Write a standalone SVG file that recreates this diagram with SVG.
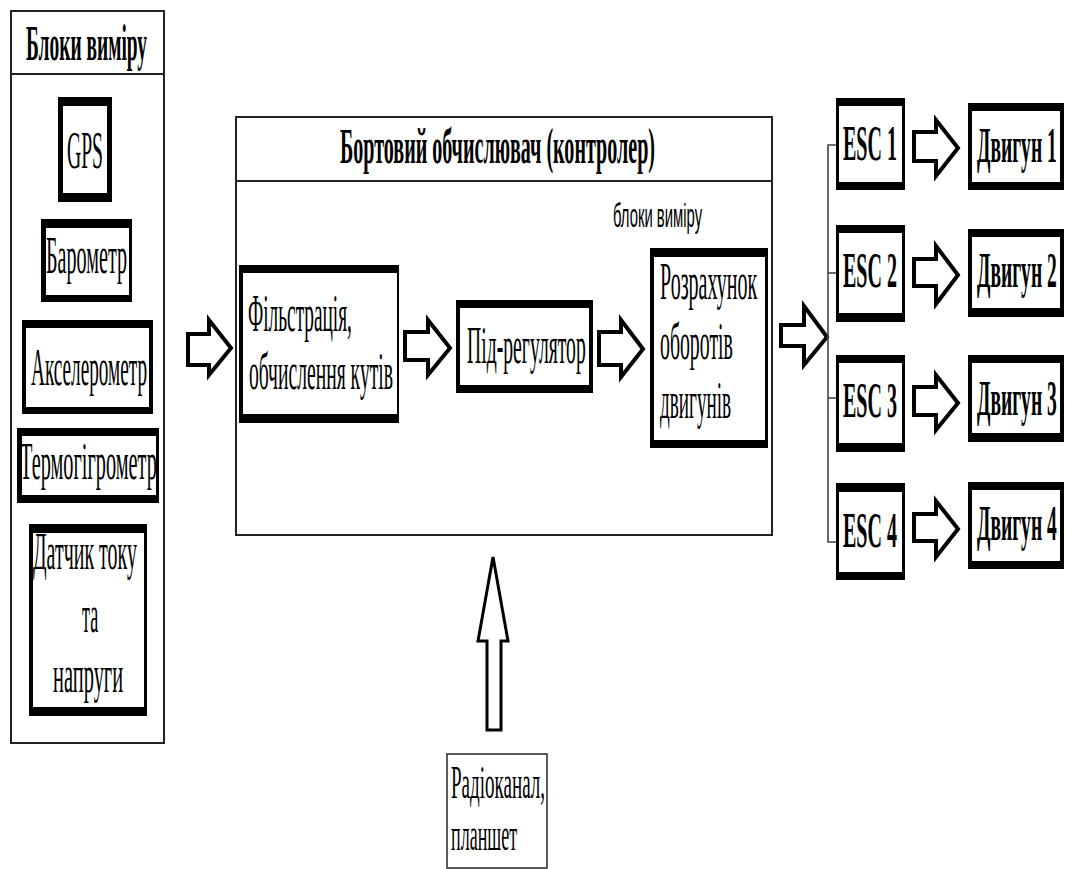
<svg xmlns="http://www.w3.org/2000/svg" width="1065" height="869" viewBox="0 0 1065 869">
<style>
.bg{fill:#fff}
.panel{fill:#fff;stroke:#222;stroke-width:2}
.sep{stroke:#222;stroke-width:2}
.ob{fill:#000}
.ib{fill:#fff}
.t{font-family:"Liberation Serif","Times New Roman",serif;font-size:52px;fill:#000}
.b{font-weight:bold;font-size:51px}
.r{font-size:46px}
.s{font-family:"Liberation Sans",Arial,sans-serif;font-size:34px;fill:#000}
.arr{fill:#fff;stroke:#000;stroke-width:4;stroke-linejoin:miter}
.bus{fill:none;stroke:#444;stroke-width:1.6}
.radio{fill:#fff;stroke:#333;stroke-width:1.6}
</style>
<rect class="bg" x="0" y="0" width="1065" height="869"/>

<g id="panel-sensors">
<rect class="panel" x="11" y="11" width="153" height="732"/>
<line class="sep" x1="11" y1="74" x2="164" y2="74"/>
<text class="t b" transform="translate(26,60) scale(0.45,1)" textLength="269" lengthAdjust="spacingAndGlyphs">Блоки виміру</text>
</g>

<g id="node-gps">
<rect class="ob" x="58" y="97" width="54" height="105"/>
<rect class="ib" x="63" y="106" width="44" height="87"/>
<text class="t" transform="translate(67,168) scale(0.45,1)" textLength="80" lengthAdjust="spacingAndGlyphs">GPS</text>
</g>
<g id="node-barometer">
<rect class="ob" x="41" y="219" width="91" height="83"/>
<rect class="ib" x="46" y="228" width="83" height="67"/>
<text class="t" transform="translate(46,273) scale(0.45,1)" textLength="180" lengthAdjust="spacingAndGlyphs">Барометр</text>
</g>
<g id="node-accel">
<rect class="ob" x="22" y="320" width="131" height="94"/>
<rect class="ib" x="26" y="328" width="123" height="79"/>
<text class="t" transform="translate(31,385) scale(0.45,1)" textLength="258" lengthAdjust="spacingAndGlyphs">Акселерометр</text>
</g>
<g id="node-thermo">
<rect class="ob" x="17" y="428" width="142" height="75"/>
<rect class="ib" x="22" y="436" width="134" height="59"/>
<text class="t" transform="translate(20,479) scale(0.45,1)" textLength="304" lengthAdjust="spacingAndGlyphs">Термогігрометр</text>
</g>
<g id="node-current">
<rect class="ob" x="29" y="524" width="118" height="192"/>
<rect class="ib" x="33" y="533" width="111" height="174"/>
<text class="t" transform="translate(33,569) scale(0.45,1)" textLength="231" lengthAdjust="spacingAndGlyphs">Датчик току</text>
<text class="t" transform="translate(82,632) scale(0.45,1)" textLength="36" lengthAdjust="spacingAndGlyphs">та</text>
<text class="t" transform="translate(53,692) scale(0.45,1)" textLength="156" lengthAdjust="spacingAndGlyphs">напруги</text>
</g>

<g id="panel-controller">
<rect class="panel" x="236" y="117" width="536" height="418"/>
<line class="sep" x1="236" y1="181" x2="772" y2="181"/>
<text class="t b" transform="translate(340,163) scale(0.45,1)" textLength="700" lengthAdjust="spacingAndGlyphs">Бортовий обчислювач (контролер)</text>
<text class="s" transform="translate(613,227) scale(0.45,1)" textLength="198" lengthAdjust="spacingAndGlyphs">блоки виміру</text>
</g>

<g id="node-filter">
<rect class="ob" x="239" y="265" width="160" height="158"/>
<rect class="ib" x="243" y="273" width="154" height="141"/>
<text class="t" transform="translate(248,331) scale(0.45,1)" textLength="231" lengthAdjust="spacingAndGlyphs">Фільстрація,</text>
<text class="t" transform="translate(249,389) scale(0.45,1)" textLength="320" lengthAdjust="spacingAndGlyphs">обчислення кутів</text>
</g>
<g id="node-pid">
<rect class="ob" x="456" y="300" width="137" height="93"/>
<rect class="ib" x="460" y="308" width="129" height="77"/>
<text class="t" transform="translate(467,363) scale(0.45,1)" textLength="264" lengthAdjust="spacingAndGlyphs">Під-регулятор</text>
</g>
<g id="node-calc">
<rect class="ob" x="650" y="248" width="118" height="200"/>
<rect class="ib" x="654" y="257" width="111" height="183"/>
<text class="t" transform="translate(660,299) scale(0.45,1)" textLength="216" lengthAdjust="spacingAndGlyphs">Розрахунок</text>
<text class="t" transform="translate(660,359) scale(0.45,1)" textLength="162" lengthAdjust="spacingAndGlyphs">оборотів</text>
<text class="t" transform="translate(660,418) scale(0.45,1)" textLength="158" lengthAdjust="spacingAndGlyphs">двигунів</text>
</g>

<g id="node-esc1">
<rect class="ob" x="836" y="98" width="69" height="92"/>
<rect class="ib" x="839" y="106" width="63" height="76"/>
<text class="t b" transform="translate(843,160) scale(0.45,1)" textLength="120" lengthAdjust="spacingAndGlyphs">ESC 1</text>
</g>
<g id="node-esc2">
<rect class="ob" x="836" y="225" width="69" height="97"/>
<rect class="ib" x="839" y="233" width="63" height="80"/>
<text class="t b" transform="translate(843,287) scale(0.45,1)" textLength="120" lengthAdjust="spacingAndGlyphs">ESC 2</text>
</g>
<g id="node-esc3">
<rect class="ob" x="836" y="355" width="69" height="97"/>
<rect class="ib" x="839" y="363" width="63" height="80"/>
<text class="t b" transform="translate(843,417) scale(0.45,1)" textLength="120" lengthAdjust="spacingAndGlyphs">ESC 3</text>
</g>
<g id="node-esc4">
<rect class="ob" x="836" y="483" width="69" height="97"/>
<rect class="ib" x="839" y="492" width="63" height="80"/>
<text class="t b" transform="translate(843,547) scale(0.45,1)" textLength="120" lengthAdjust="spacingAndGlyphs">ESC 4</text>
</g>

<g id="node-motor1">
<rect class="ob" x="968" y="103" width="96" height="87"/>
<rect class="ib" x="972" y="111" width="88" height="71"/>
<text class="t b" transform="translate(977,162) scale(0.38,1)" textLength="210" lengthAdjust="spacingAndGlyphs">Двигун 1</text>
</g>
<g id="node-motor2">
<rect class="ob" x="968" y="229" width="96" height="88"/>
<rect class="ib" x="972" y="237" width="88" height="71"/>
<text class="t b" transform="translate(977,287) scale(0.38,1)" textLength="210" lengthAdjust="spacingAndGlyphs">Двигун 2</text>
</g>
<g id="node-motor3">
<rect class="ob" x="968" y="355" width="96" height="87"/>
<rect class="ib" x="972" y="363" width="88" height="70"/>
<text class="t b" transform="translate(977,415) scale(0.38,1)" textLength="210" lengthAdjust="spacingAndGlyphs">Двигун 3</text>
</g>
<g id="node-motor4">
<rect class="ob" x="968" y="482" width="96" height="87"/>
<rect class="ib" x="972" y="490" width="88" height="71"/>
<text class="t b" transform="translate(977,540) scale(0.38,1)" textLength="210" lengthAdjust="spacingAndGlyphs">Двигун 4</text>
</g>

<g id="node-radio">
<rect class="radio" x="447" y="754" width="100" height="114"/>
<text class="t r" transform="translate(451,798) scale(0.45,1)" textLength="209" lengthAdjust="spacingAndGlyphs">Радіоканал,</text>
<text class="t r" transform="translate(451,850) scale(0.45,1)" textLength="147" lengthAdjust="spacingAndGlyphs">планшет</text>
</g>

<g id="connectors">
<polygon class="arr" points="188,334 209,334 209,320 231,348 209,375 209,365 188,365"/>
<polygon class="arr" points="405,332 428,332 428,320 450,348 428,375 428,360 405,360"/>
<polygon class="arr" points="599,332 621,332 621,320 643,349 621,377 621,365 599,365"/>
<polygon class="arr" points="781,325 804,325 804,306 827,337 804,365 804,346 781,346"/>
<polyline class="bus" points="836,145 828,145 828,542 836,542"/>
<line class="bus" x1="828" y1="273" x2="836" y2="273"/>
<line class="bus" x1="828" y1="398" x2="836" y2="398"/>
<polygon class="arr" points="914,132 936,132 936,120 958,148 936,176 936,161 914,161"/>
<polygon class="arr" points="914,259 936,259 936,246 958,275 936,304 936,286 914,286"/>
<polygon class="arr" points="914,387 936,387 936,375 958,403 936,430 936,415 914,415"/>
<polygon class="arr" points="914,514 936,514 936,501 958,529 936,557 936,541 914,541"/>
<polygon class="arr" style="stroke-width:3" points="493,557 508,641 501,641 501,730 487,730 487,641 478,641"/>
</g>
</svg>
